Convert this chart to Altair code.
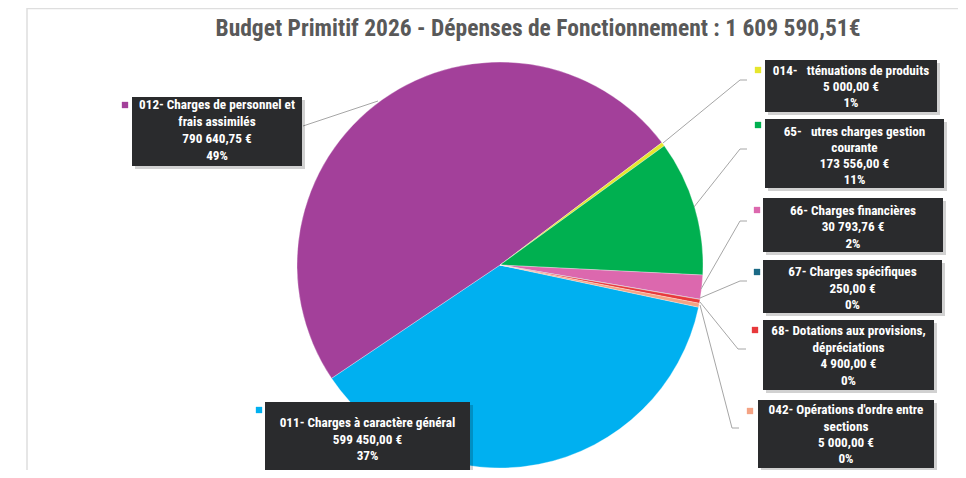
import math
import altair as alt
import pandas as pd

# ---------------- data ----------------
codes = ["011", "012", "014", "65", "66", "67", "68", "042"]
line1 = [
    "011- Charges à caractère général",
    "012- Charges de personnel et",
    "014-\u00a0\u00a0\u00a0tténuations de produits",
    "65-\u00a0\u00a0\u00a0utres charges gestion",
    "66- Charges financières",
    "67- Charges spécifiques",
    "68- Dotations aux provisions,",
    "042- Opérations d'ordre entre",
]
line2 = ["", "frais assimilés", "", "courante", "", "", "dépréciations", "sections"]
amounts = [599450.00, 790640.75, 5000.00, 173556.00, 30793.76, 250.00, 4900.00, 5000.00]
amount_labels = ["599 450,00 €", "790 640,75 €", "5 000,00 €", "173 556,00 €",
                 "30 793,76 €", "250,00 €", "4 900,00 €", "5 000,00 €"]
pct_labels = ["37%", "49%", "1%", "11%", "2%", "0%", "0%", "0%"]
title_text = "Budget Primitif 2026 - Dépenses de Fonctionnement : 1 609 590,51€"

# ---------------- style / layout ----------------
colors = ["#00b0f0", "#a3409a", "#e6e62e", "#00b050", "#dc68ae", "#1b6a86", "#e8393b", "#f4a384"]
FONT = "Liberation Sans Narrow, Roboto Condensed, DejaVu Sans Condensed, Roboto, sans-serif"
OFF = 8  # page margin
W, H = 950, 462
CX, CY, R = 500 - OFF, 265 - OFF, 203
start_deg = 102.0
t0 = math.radians(start_deg)

# label boxes (page px): x1, x2, y1, y2, line y centres, marker centre
boxes = {
    "011": (265, 470, 402, 472, [423, 440, 456], (259, 410)),
    "012": (132, 302, 97, 166, [105, 122, 139, 156], (125, 105)),
    "014": (765, 937, 60, 112, [71, 87, 103], (758, 70)),
    "65": (765, 944, 119, 188, [132, 148, 164, 180], (758, 125)),
    "66": (763, 943, 198, 252, [211, 227, 244], (757, 210)),
    "67": (763, 942, 260, 313, [272, 289, 305], (757, 272)),
    "68": (763, 934, 320, 390, [331, 348, 364, 381], (755, 330)),
    "042": (758, 934, 400, 468, [410, 427, 443, 459], (750, 411)),
}
leaders = {
    "012": [(303, 126), (378, 101)],
    "014": [(663, 143), (740, 80), (747, 80)],
    "65": [(694, 207), (740, 149), (747, 149)],
    "66": [(701, 289), (740, 221), (747, 221)],
    "67": [(700, 298), (740, 281), (747, 281)],
    "68": [(700, 302), (738, 349), (746, 349)],
    "042": [(700, 305), (732, 428), (739, 428)],
}

# ---------------- tables ----------------
pie_df = pd.DataFrame({"code": codes, "value": amounts, "idx": list(range(len(codes)))})

box_rows, shadow_rows, text_rows, marker_rows, lead_rows = [], [], [], [], []
for i, c in enumerate(codes):
    x1, x2, y1, y2, ys, (mx, my) = boxes[c]
    box_rows.append({"code": c, "x1": x1 - OFF, "x2": x2 - OFF, "y1": y1 - OFF, "y2": y2 - OFF})
    shadow_rows.append({"code": c, "x1": x1 - OFF + 3, "x2": x2 - OFF + 3, "y1": y1 - OFF + 3, "y2": y2 - OFF + 3})
    lines = [line1[i]] + ([line2[i]] if line2[i] else []) + [amount_labels[i], pct_labels[i]]
    for ln, yy in zip(lines, ys):
        text_rows.append({"code": c, "t": ln, "x": (x1 + x2) / 2 - OFF, "y": yy - OFF})
    marker_rows.append({"code": c, "x": mx - OFF, "y": my - OFF})
for c, pts in leaders.items():
    for k, (px, py) in enumerate(pts):
        lead_rows.append({"code": c, "k": k, "x": px - OFF, "y": py - OFF})

box_df = pd.DataFrame(box_rows)
shadow_df = pd.DataFrame(shadow_rows)
text_df = pd.DataFrame(text_rows)
marker_df = pd.DataFrame(marker_rows)
lead_df = pd.DataFrame(lead_rows)

color_scale = alt.Scale(domain=codes, range=colors)

# ---------------- layers ----------------
frame = alt.Chart(pd.DataFrame({"a": [0]})).mark_rect(
    fill=None, stroke="#dedede", strokeWidth=1.5
).encode(x=alt.value(27 - OFF), x2=alt.value(W + 10), y=alt.value(0.5), y2=alt.value(H + 10))

pie_shadow = alt.Chart(pd.DataFrame({"a": [1]})).mark_arc(
    color="#000000", opacity=0.06, outerRadius=R + 3
).encode(theta=alt.Theta("a:Q"), x=alt.value(CX + 4), y=alt.value(CY + 5))

pie = alt.Chart(pie_df).mark_arc(outerRadius=R, stroke="white", strokeWidth=0.3).encode(
    theta=alt.Theta("value:Q", stack=True, scale=alt.Scale(range=[t0, t0 + 2 * math.pi])),
    color=alt.Color("code:N", scale=color_scale, legend=None),
    order=alt.Order("idx:Q"),
    x=alt.value(CX),
    y=alt.value(CY),
)

leader_lines = alt.Chart(lead_df).mark_line(color="#a6a6a6", strokeWidth=1).encode(
    x=alt.X("x:Q", scale=None),
    y=alt.Y("y:Q", scale=None),
    detail="code:N",
    order="k:Q",
)

shadows = alt.Chart(shadow_df).mark_rect(color="#000000", opacity=0.18).encode(
    x=alt.X("x1:Q", scale=None), x2="x2:Q", y=alt.Y("y1:Q", scale=None), y2="y2:Q"
)

rects = alt.Chart(box_df).mark_rect(color="#2a2b2d").encode(
    x=alt.X("x1:Q", scale=None), x2="x2:Q", y=alt.Y("y1:Q", scale=None), y2="y2:Q"
)

markers = alt.Chart(marker_df).mark_square(size=40, opacity=1).encode(
    x=alt.X("x:Q", scale=None),
    y=alt.Y("y:Q", scale=None),
    color=alt.Color("code:N", scale=color_scale, legend=None),
)

texts = alt.Chart(text_df).mark_text(
    font=FONT, fontSize=13.2, fontWeight="bold", color="white", align="center", baseline="middle"
).encode(x=alt.X("x:Q", scale=None), y=alt.Y("y:Q", scale=None), text="t:N")

title = alt.Chart(pd.DataFrame({"t": [title_text]})).mark_text(
    font=FONT, fontSize=23.5, fontWeight="bold", color="#595959", align="center", baseline="middle"
).encode(x=alt.value(538 - OFF), y=alt.value(29 - OFF), text="t:N")

chart = alt.layer(
    frame, pie_shadow, pie, leader_lines, shadows, rects, markers, texts, title
).properties(
    width=W, height=H, autosize=alt.AutoSizeParams(type="none"), padding=0
).configure_view(stroke=None)

chart.save("out.html", embed_options={"renderer": "svg", "actions": False})
